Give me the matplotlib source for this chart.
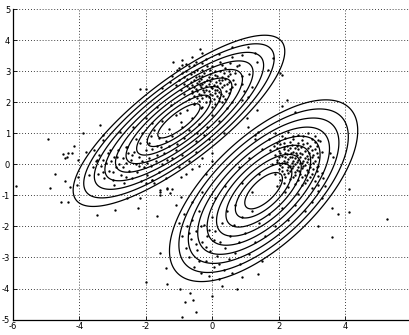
import numpy as np
import matplotlib
matplotlib.use("Agg")
import matplotlib.pyplot as plt

#-----------------------------------------------------------
# data
# gaussian components (mean, covariance) of the fitted mixture
means = [[-1.0, 1.4], [1.55, -0.85]]
covs = [[[2.54, 1.78], [1.78, 1.90]],
        [[2.01, 1.37], [1.37, 2.14]]]
# contour levels as mahalanobis radius
radii = [0.4, 0.6, 0.8, 1.0, 1.2, 1.4, 1.6, 1.8, 2.0]

x_ticks = [-6, -4, -2, 0, 2, 4, 6]
y_ticks = [-5, -4, -3, -2, -1, 0, 1, 2, 3, 4, 5]

# upper-left cloud
cloud1 = [
  (-4.95,0.80),(-4.48,0.33),(-4.33,0.37),(-4.23,0.35),(-4.38,0.24),(-4.43,0.19),(-4.16,0.60),(-3.90,1.02),
  (-3.38,1.26),(-3.80,0.41),(-4.03,0.14),(-4.03,-0.40),(-4.28,-0.72),(-4.33,-1.20),(-4.73,-0.32),(-4.43,-0.54),
  (-4.08,-0.67),(-4.90,-0.77),(-4.56,-1.20),(-5.90,-0.69),
  (-2.17,2.41),(-1.99,2.41),(-1.17,3.30),(-0.92,3.20),(-0.36,3.70),(-1.07,3.04),(-1.52,2.45),(-1.27,2.66),
  (-1.67,1.85),(-0.97,1.64),(-0.92,1.21),(-0.46,1.00),(-2.37,1.21),(-1.82,1.32),(-2.77,1.05),(-3.28,0.94),
  (-3.28,0.78),(-3.08,0.46),(-2.17,0.68),(-2.57,0.57),(-2.87,0.24),(-3.48,0.14),
  (-3.6,-0.1),(-3.5,0.1),(-3.45,-0.3),(-3.4,0.3),(-3.35,-0.05),(-3.3,0.15),(-3.25,-0.45),(-3.2,0.05),
  (-3.15,0.35),(-3.1,-0.2),(-3.05,0.1),(-3.0,-0.5),(-2.95,0.25),(-2.9,-0.1),(-2.85,0.45),(-2.8,0.0),
  (-2.75,-0.35),(-2.7,0.2),(-2.65,-0.6),(-2.6,0.05),(-2.55,0.35),(-2.5,-0.2),(-2.45,0.15),(-2.4,-0.45),
  (-2.35,0.4),(-2.3,0.0),(-2.25,-0.25),(-2.2,0.25),(-2.15,-0.55),(-2.1,0.1),(-2.05,-0.1),(-2.0,0.45),
  (-1.95,-0.35),(-1.9,0.2),(-1.85,-0.05),(-1.8,0.5),(-1.75,-0.6),(-1.7,0.1),(-1.65,0.3),(-1.6,-0.25),
  (-1.55,0.55),(-1.5,0.0),(-1.45,0.35),(-1.4,-0.45),(-1.35,0.15),(-1.3,0.6),(-3.7,-0.35),(-3.55,0.45),
  (-2.95,-0.65),(-2.6,0.55),(-1.57,-0.83),(-1.37,-0.77),(-1.27,-0.93),(-1.57,-0.99),(-1.82,-0.50),
  (-2.17,-1.09),(-2.57,-1.09),(-2.23,-1.42),(-2.92,-1.47),(-3.46,-1.63),(-1.67,-1.66),
  (-3.0,-0.25),(-2.7,-0.1),(-2.4,0.3),(-2.2,-0.05),(-1.95,0.05),(-2.6,-0.4),(-3.3,-0.25),(-2.0,-0.6),
  (-2.3,0.8),(-2.1,1.0),(-1.9,0.7),(-1.75,1.1),(-1.6,0.85),(-1.5,1.4),(-1.4,0.75),(-1.3,1.15),
  (-1.2,0.9),(-1.1,1.6),(-1.05,0.65),(-0.95,1.35),(-0.85,0.85),(-0.75,1.75),(-0.7,1.1),(-0.6,1.5),
  (-0.5,0.75),(-0.4,1.3),(-0.3,1.85),(-0.25,0.95),(-2.0,1.5),(-1.85,0.9),(-1.25,1.9),(-0.55,1.95),
  (-1.65,0.6),(-0.15,1.2),(0.0,1.6),(-0.1,0.8),(0.2,1.4),(0.35,1.0),
  (-1.2,0.2),(-1.0,-0.1),(-0.9,0.3),(-0.8,-0.3),(-0.7,0.1),(-0.6,-0.15),(-0.5,0.4),(-0.4,-0.05),
  (-0.3,0.2),(-1.1,0.45),(-0.95,-0.4),(-0.2,-0.3),(0.0,0.1),(-0.01,0.35),
  (-0.9,3.35),(-0.5,3.3),(-0.2,3.4),(0.25,3.3),(0.6,3.45),
  (-1.0,3.1),(-0.7,3.15),(-0.45,3.05),(-0.15,3.15),(0.1,3.0),(0.4,3.1),(0.75,3.15),
  (-1.2,2.85),(-0.9,2.95),(-0.65,2.9),(-0.4,2.85),(-0.25,2.95),(-0.05,2.9),(0.15,2.85),(0.35,2.95),(0.55,2.9),(0.9,2.85),
  (-1.0,2.7),(-0.75,2.75),(-0.55,2.7),(-0.35,2.75),(-0.15,2.7),(0.0,2.78),(0.2,2.72),(0.4,2.75),(0.62,2.7),
  (-1.1,2.55),(-0.85,2.6),(-0.6,2.55),(-0.45,2.62),(-0.3,2.58),(-0.1,2.6),(0.05,2.55),(0.25,2.62),(0.45,2.58),(0.7,2.6),
  (-0.95,2.4),(-0.7,2.45),(-0.5,2.42),(-0.35,2.48),(-0.2,2.4),(0.0,2.45),(0.15,2.4),(0.3,2.48),(0.55,2.42),
  (-0.85,2.25),(-0.6,2.3),(-0.4,2.28),(-0.25,2.32),(-0.05,2.25),(0.1,2.3),(0.28,2.25),(0.5,2.3),
  (-0.7,2.1),(-0.45,2.15),(-0.3,2.12),(-0.1,2.18),(0.05,2.1),(0.2,2.15),(0.4,2.1),
  (-0.55,1.95),(-0.2,2.0),(0.1,1.95),(0.3,2.02),(0.6,2.0),(-0.35,1.8),(0.0,1.85),(0.45,1.8),
  (-0.8,3.22),(-0.55,3.2),(-0.3,3.25),(0.0,3.18),(0.3,3.2),(0.55,3.25),
  (-0.8,3.02),(-0.55,2.98),(-0.3,3.03),(-0.05,3.05),(0.25,3.0),(0.5,3.02),(0.7,2.95),
  (-0.85,2.82),(-0.5,2.8),(-0.3,2.85),(-0.1,2.82),(0.1,2.88),(0.3,2.82),(0.48,2.85),
  (-0.65,2.66),(-0.4,2.68),(-0.25,2.65),(-0.05,2.68),(0.12,2.66),(0.3,2.7),(0.52,2.66),
  (-0.75,2.52),(-0.55,2.5),(-0.38,2.55),(-0.18,2.52),(-0.02,2.5),(0.15,2.52),(0.35,2.55),(0.6,2.5),
  (-0.6,2.36),(-0.45,2.35),(-0.28,2.38),(-0.1,2.35),(0.08,2.38),(0.22,2.33),(0.42,2.36),
  (-0.55,2.2),(-0.35,2.22),(-0.2,2.2),(0.0,2.22),(0.15,2.2),(0.32,2.2),
  (-0.4,2.05),(-0.05,2.05),(0.2,2.05),
  (1.09,3.79),(1.34,3.30),(1.84,3.41),(1.69,3.04),(2.05,2.93),(2.10,2.87),(1.29,3.57),(0.89,3.52),
  (0.59,3.79),(1.09,2.18),(0.89,2.07),(0.9,2.6),(1.1,2.9),(0.8,3.2),(1.2,2.5),(0.95,2.35),
  (-0.3,3.6),(0.2,3.55),(-0.6,3.45),
]

# lower-right cloud
cloud2 = [
  (1.9,1.0),(2.3,1.05),(2.6,0.95),(2.9,1.0),
  (1.7,0.8),(2.0,0.75),(2.2,0.85),(2.45,0.8),(2.7,0.78),(3.0,0.82),(3.25,0.75),
  (1.85,0.6),(2.05,0.65),(2.25,0.58),(2.4,0.62),(2.55,0.6),(2.75,0.65),(2.95,0.58),(3.15,0.6),
  (1.75,0.45),(2.0,0.42),(2.15,0.48),(2.3,0.45),(2.45,0.4),(2.6,0.48),(2.8,0.43),(3.0,0.46),(3.3,0.4),
  (1.9,0.3),(2.1,0.28),(2.25,0.32),(2.4,0.25),(2.55,0.3),(2.7,0.33),(2.85,0.27),(3.05,0.3),(3.2,0.25),
  (1.95,0.15),(2.15,0.12),(2.3,0.18),(2.45,0.1),(2.6,0.15),(2.75,0.12),(2.9,0.18),(3.1,0.1),
  (1.8,0.0),(2.05,-0.02),(2.2,0.03),(2.35,-0.05),(2.5,0.0),(2.65,0.04),(2.8,-0.03),(2.95,0.0),(3.2,-0.05),
  (2.0,-0.15),(2.25,-0.18),(2.4,-0.12),(2.55,-0.17),(2.7,-0.13),(2.85,-0.18),(3.05,-0.15),
  (1.9,-0.3),(2.15,-0.32),(2.3,-0.28),(2.5,-0.33),(2.65,-0.3),(2.8,-0.35),(3.0,-0.3),(3.3,-0.28),
  (2.05,-0.5),(2.35,-0.48),(2.6,-0.52),(2.85,-0.5),(3.1,-0.55),(3.35,-0.45),
  (1.95,-0.7),(2.3,-0.72),(2.7,-0.68),(3.0,-0.75),(3.4,-0.7),
  (2.2,-0.9),(2.6,-0.95),(3.2,-0.85),
  (2.1,0.92),(2.45,0.9),(2.75,0.9),(3.1,0.92),
  (1.95,0.7),(2.15,0.7),(2.35,0.72),(2.6,0.7),(2.85,0.7),(3.1,0.72),
  (1.95,0.52),(2.15,0.55),(2.35,0.52),(2.5,0.54),(2.68,0.55),(2.88,0.52),(3.1,0.5),
  (2.05,0.36),(2.2,0.38),(2.38,0.35),(2.52,0.38),(2.65,0.38),(2.92,0.36),(3.15,0.38),
  (2.02,0.22),(2.2,0.22),(2.35,0.25),(2.5,0.2),(2.65,0.22),(2.8,0.2),(3.0,0.22),
  (1.95,0.07),(2.1,0.05),(2.25,0.08),(2.4,0.05),(2.55,0.07),(2.7,0.05),(2.85,0.08),(3.05,0.05),
  (2.1,-0.08),(2.3,-0.1),(2.45,-0.07),(2.6,-0.08),(2.75,-0.06),(2.95,-0.1),(3.15,-0.1),
  (2.1,-0.22),(2.35,-0.22),(2.5,-0.24),(2.62,-0.22),(2.9,-0.25),(3.15,-0.22),
  (2.2,-0.4),(2.45,-0.4),(2.72,-0.42),(2.95,-0.42),(3.2,-0.38),
  (2.15,-0.6),(2.5,-0.62),(2.8,-0.6),(3.2,-0.65),
  (-1.0,-1.9),(-0.9,-2.3),(-0.85,-1.6),(-0.8,-2.7),(-0.75,-2.0),(-0.7,-3.0),(-0.65,-2.4),(-0.6,-1.8),
  (-0.55,-3.3),(-0.5,-2.15),(-0.45,-2.75),(-0.4,-1.5),(-0.35,-3.5),(-0.3,-2.5),(-0.25,-1.95),(-0.2,-3.1),
  (-0.15,-2.3),(-0.1,-3.6),(-0.05,-2.8),(0.0,-1.7),(0.05,-3.3),(0.1,-2.15),(0.15,-2.95),(0.2,-3.7),
  (0.25,-2.5),(0.3,-1.9),(0.35,-3.4),(0.4,-2.7),(0.45,-1.5),(0.5,-3.05),(0.55,-2.3),(0.6,-3.5),
  (0.65,-1.95),(0.7,-2.85),(0.8,-2.5),(0.85,-3.2),(0.9,-1.7),(1.0,-2.2),(1.1,-2.9),(1.2,-1.5),
  (1.3,-2.5),(1.4,-1.9),(1.5,-3.1),(1.6,-2.3),(1.7,-1.6),(1.9,-2.0),(2.1,-1.4),(2.3,-1.8),
  (2.5,-1.3),(2.8,-1.5),(3.0,-1.2),(3.3,-1.1),(3.6,-1.4),(3.8,-1.6),(-1.1,-1.3),(-0.95,-1.05),
  (-0.6,-1.2),(-0.3,-0.9),(0.1,-1.1),(0.4,-0.7),(0.7,-1.3),(0.9,-0.6),(1.2,-0.9),(1.4,-0.3),
  (1.1,0.2),(0.8,-0.1),(1.5,0.5),(1.3,0.8),
  (-0.7,-2.2),(-0.5,-2.55),(-0.35,-2.0),(-0.2,-2.65),(-0.1,-2.1),(0.05,-2.45),(0.2,-3.2),(-0.4,-3.1),
  (5.26,-1.76),(3.60,-2.33),(3.20,-1.98),(4.12,-0.80),(4.12,-1.52),(-0.01,-4.23),(0.76,-4.01),(1.39,-3.54),
  (0.91,-3.62),(0.31,-3.91),(-0.92,-4.92),(-0.49,-4.74),(-0.82,-4.44),(-0.57,-4.37),(-0.67,-4.15),(-0.97,-4.01),
  (-1.37,-3.84),(-1.40,-3.35),(-1.57,-2.86),(-2.0,-3.8),(2.25,2.07),(2.10,1.88),(1.34,1.75),(1.04,1.48),
  (1.09,1.21),(1.39,1.05),(1.29,0.94),(2.50,1.69),(3.20,0.78),(3.55,0.35),(3.65,0.25),(-1.57,-0.88),
  (-1.37,-0.79),(-1.22,-0.79),(-1.82,-0.50),
]

#-----------------------------------------------------------
plt.rcParams['axes.unicode_minus'] = False

fig = plt.figure(figsize=(4.10, 3.35), dpi=100)
ax = fig.add_axes([0.0317, 0.046, 0.9715, 0.927])

# points
for cloud in [cloud1, cloud2]:
  px = [p[0] for p in cloud]
  py = [p[1] for p in cloud]
  ax.plot(px, py, 'k.', markersize=3.4, markeredgewidth=0)

# component contours (mahalanobis radius)
gx, gy = np.meshgrid(np.linspace(-6, 6, 400), np.linspace(-5, 5, 400))
for mu, cov in zip(means, covs):
  inv = np.linalg.inv(np.array(cov))
  dx = gx - mu[0]
  dy = gy - mu[1]
  m = np.sqrt(inv[0, 0]*dx*dx + 2*inv[0, 1]*dx*dy + inv[1, 1]*dy*dy)
  ax.contour(gx, gy, m, levels=radii, colors='k', linewidths=0.9)

ax.set_xlim(-6, 6)
ax.set_ylim(-5, 5)
ax.set_xticks(x_ticks)
ax.set_yticks(y_ticks)
ax.set_xticklabels([str(t) for t in x_ticks])
ax.set_yticklabels([str(t) for t in y_ticks])
ax.grid(True, color='k', linestyle=(0, (1, 2.5)), linewidth=0.6)
ax.tick_params(direction='in', length=3, width=0.6, labelsize=6, pad=2)
ax.spines['top'].set_visible(False)
ax.spines['right'].set_visible(False)
for s in ['left', 'bottom']:
  ax.spines[s].set_linewidth(0.9)

fig.savefig('out.png', dpi=100)
